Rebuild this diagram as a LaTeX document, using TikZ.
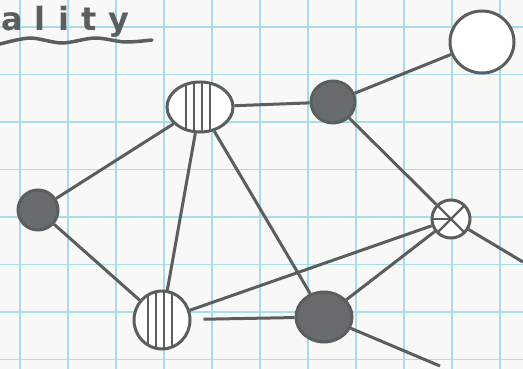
\documentclass[tikz,border=0pt]{standalone}
\usepackage{fontspec}
\usetikzlibrary{shapes.geometric}
\definecolor{pencil}{HTML}{5A5E5E}
\definecolor{gridcyan}{HTML}{A8DCE6}
\definecolor{paper}{HTML}{F8F9F7}
\newfontfamily\handfont[LetterSpace=38]{DejaVu Sans}

\begin{document}
\begin{tikzpicture}[x=1pt, y=-1pt,
    nd/.style={ellipse, draw=pencil, line width=3pt, inner sep=0pt},
    dark/.style={nd, fill=pencil!92},
    hatch/.style={nd, fill=white, path picture={
        \foreach \dx in {-14,-6,2,10}
          \draw[pencil, line width=2.2pt] ([xshift=\dx pt]path picture bounding box.north) -- ([xshift=\dx pt]path picture bounding box.south);}},
    cross/.style={nd, fill=white, path picture={
        \draw[pencil, line width=2.4pt] (path picture bounding box.north west) -- (path picture bounding box.south east);
        \draw[pencil, line width=2.4pt] (path picture bounding box.north east) -- (path picture bounding box.south west);
        \draw[pencil, line width=1.8pt] (path picture bounding box.west) -- (path picture bounding box.center);}},
    link/.style={draw=pencil, line width=3pt},
]

% paper and grid
\useasboundingbox (0,0) rectangle (523,369);
\fill[paper] (0,0) rectangle (523,369);
\foreach \gx in {20,68,...,500}
  \draw[gridcyan, line width=1.4pt] (\gx,0) -- (\gx,369);
\foreach \gy in {27,74.5,...,369}
  \draw[gridcyan, line width=1.4pt] (0,\gy) -- (523,\gy);

% title
\node[anchor=base west, text=pencil, font=\handfont\bfseries\fontsize{32}{32}\selectfont, inner sep=0pt] (title) at (1,31) {ality};
\draw[pencil, line width=3.5pt, line cap=round] plot[smooth] coordinates {(0,44) (30,38) (62,43) (95,38) (125,42) (152,40)};

% nodes
\node[hatch, minimum width=66pt, minimum height=50pt] (hub) at (200,107) {};
\node[dark, minimum width=44pt, minimum height=42pt] (top) at (333,102) {};
\node[nd, fill=white, minimum width=64pt, minimum height=62pt] (leaf) at (482,42) {};
\node[dark, minimum width=40pt, minimum height=40pt] (left) at (38,210) {};
\node[hatch, minimum width=56pt, minimum height=58pt] (lowleft) at (162,320) {};
\node[dark, minimum width=56pt, minimum height=50pt] (low) at (324,317) {};
\node[cross, minimum width=38pt, minimum height=38pt] (cross) at (451,219) {};
\coordinate (exitr) at (523,262);
\coordinate (exitb) at (440,366);

% links
\draw[link] (hub) -- (top);
\draw[link] (top) -- (leaf);
\draw[link] (top) -- (cross);
\draw[link] (hub) -- (left);
\draw[link] (left) -- (lowleft);
\draw[link] (hub) -- (lowleft);
\draw[link] (hub) -- (low);
\draw[link] (lowleft) -- (cross);
\draw[link, shorten <=12pt] (lowleft) -- (low);
\draw[link] (low) -- (cross);
\draw[link] (cross) -- (exitr);
\draw[link] (low) -- (exitb);

\end{tikzpicture}
\end{document}
